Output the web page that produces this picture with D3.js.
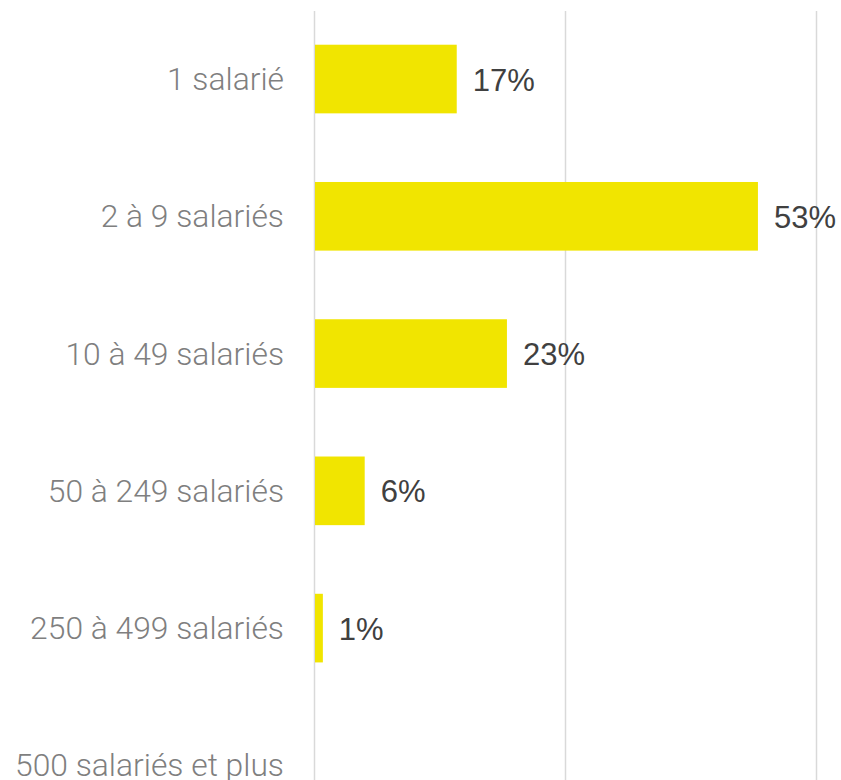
<!DOCTYPE html>
<html><head><meta charset="utf-8">
<script src="https://cdn.jsdelivr.net/npm/d3@7"></script>
<style>body{margin:0;background:#fff}</style>
</head><body>
<svg id="c" width="841" height="780"></svg>
<script>
const categories = ["1 salarié","2 à 9 salariés","10 à 49 salariés","50 à 249 salariés","250 à 499 salariés","500 salariés et plus"];
const values = [17,53,23,6,1,0];
const valueLabels = ["17%","53%","23%","6%","1%",""];
const gridTicks = [0,30,60];

const svg = d3.select("#c");
const x = d3.scaleLinear().domain([0,60]).range([314.5,816.5]);
const y = d3.scaleBand().domain(categories).range([10.4,834]).paddingInner(0.5).paddingOuter(0.25);

svg.append("g").selectAll("line").data(gridTicks).join("line")
  .attr("x1",d=>x(d)).attr("x2",d=>x(d)).attr("y1",11).attr("y2",780)
  .attr("stroke","#d9d9d9").attr("stroke-width",1.5);

svg.append("g").selectAll("rect").data(values).join("rect")
  .attr("x",x(0)+0.5).attr("y",(d,i)=>y(categories[i]))
  .attr("width",d=>Math.max(0,x(d)-x(0)-0.5)).attr("height",y.bandwidth())
  .attr("fill","#f1e500");

svg.append("g").selectAll("text").data(categories).join("text")
  .attr("x",284).attr("y",d=>y(d)+y.bandwidth()/2).attr("dy","0.35em")
  .attr("text-anchor","end").attr("font-family","Roboto").attr("font-weight",300)
  .attr("font-size",31.8).attr("fill","#7f7f7f").text(d=>d);

svg.append("g").selectAll("text").data(values).join("text")
  .attr("x",d=>x(d)+16).attr("y",(d,i)=>y(categories[i])+y.bandwidth()/2).attr("dy","0.37em")
  .attr("font-family","Liberation Sans, Arial").attr("font-size",31).attr("fill","#404040")
  .text((d,i)=>valueLabels[i]);
</script>
</body></html>
